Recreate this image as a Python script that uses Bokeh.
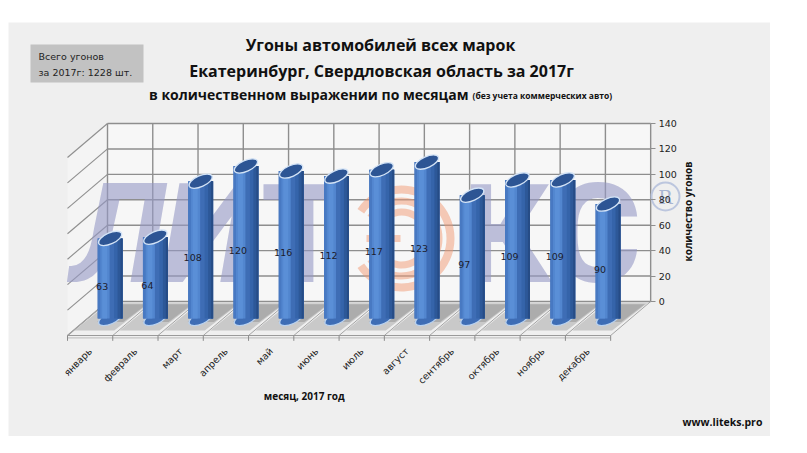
import math
from bokeh.plotting import figure
from bokeh.models import Range1d, FixedTicker, Spacer
from bokeh.layouts import column, row
from bokeh.core.properties import value
from bokeh.embed import file_html
from bokeh.resources import INLINE

# ---------------- data ----------------
months = ["январь", "февраль", "март", "апрель", "май", "июнь",
          "июль", "август", "сентябрь", "октябрь", "ноябрь", "декабрь"]
thefts = [63, 64, 108, 120, 116, 112, 117, 123, 97, 109, 109, 90]
y_ticks = [0, 20, 40, 60, 80, 100, 120, 140]

title1 = "Угоны автомобилей всех марок"
title2 = "Екатеринбург, Свердловская область за 2017г"
title3a = "в количественном выражении по месяцам"
title3b = "(без учета коммерческих авто)"
x_title = "месяц, 2017  год"
y_title = "количество угонов"
site = "www.liteks.pro"
box_lines = ["Всего угонов", f"за 2017г:  {sum(thefts)} шт."]
wm_slanted = ["Л", "И"]
wm_upright = ["Т", "К", "С"]

# ---------------- geometry (page px -> data) ----------------
n = len(months)
SX = 583 / 12.88          # px per month
SY = 223 / 175.39         # px per theft
PX0, PY0 = 67, 301        # page position of x=0 (front left) / value 0 (back wall)
PL, PR, PT, PB = 8, 770, 22, 436   # panel (= frame) on the page


def dx(X):
    return (X - PX0) / SX


def dy(Y):
    return (PY0 - Y) / SY


DX = 40 / SX          # depth offset (x)
DY = 34 / SY          # depth offset (value units)
TOP = y_ticks[-1]

PANEL = "#efefef"
GRID = "#8e8e8e"

p = figure(width=PR - PL, height=PB - PT, x_range=Range1d(dx(PL), dx(PR)),
           y_range=Range1d(dy(PB), dy(PT)),
           output_backend="svg", toolbar_location=None, y_axis_location="right",
           min_border=0, background_fill_color=PANEL, border_fill_color=PANEL)
p.outline_line_color = None
p.grid.visible = False

# x axis: month names under the front floor edge
centers = [i + 0.5 for i in range(n)]
p.xaxis.fixed_location = -DY
p.xaxis.ticker = FixedTicker(ticks=centers)
p.xaxis.major_label_overrides = {c: m for c, m in zip(centers, months)}
p.xaxis.major_label_orientation = math.pi / 4
p.xaxis.axis_line_color = None
p.xaxis.major_tick_line_color = None
p.xaxis.minor_tick_line_color = None
p.xaxis.major_label_standoff = 8
p.xaxis.major_label_text_font = "DejaVu Sans"
p.xaxis.major_label_text_font_size = "9.5px"
p.xaxis.major_label_text_color = "#222222"

# y axis: right edge of the back wall
p.yaxis.fixed_location = n + DX
p.yaxis.ticker = FixedTicker(ticks=y_ticks)
p.yaxis.bounds = (0, TOP)
p.yaxis.axis_line_color = None
p.yaxis.major_tick_line_color = GRID
p.yaxis.major_tick_out = 5
p.yaxis.major_tick_in = 0
p.yaxis.minor_tick_line_color = None
p.yaxis.major_label_standoff = 3
p.yaxis.major_label_text_font = "DejaVu Sans"
p.yaxis.major_label_text_font_size = "9.5px"
p.yaxis.major_label_text_color = "#222222"

# ---------------- walls ----------------
p.quad(left=[DX], right=[DX + n], bottom=[0], top=[TOP], fill_color="#f7f7f7", line_color=None)
p.patch([0, DX, DX, 0], [-DY, 0, TOP, TOP - DY], fill_color="#f4f4f4", line_color=None)

p.segment(x0=[DX] * len(y_ticks), y0=y_ticks, x1=[DX + n] * len(y_ticks), y1=y_ticks,
          line_color=GRID, line_width=1.4)
p.segment(x0=[k + DX for k in range(n + 1)], y0=[0] * (n + 1),
          x1=[k + DX for k in range(n + 1)], y1=[TOP] * (n + 1),
          line_color=GRID, line_width=1.4)
p.segment(x0=[0] * len(y_ticks), y0=[v - DY for v in y_ticks],
          x1=[DX] * len(y_ticks), y1=y_ticks, line_color=GRID, line_width=1.1)

# ---------------- watermark ----------------
p.text(x=[dx(X) for X in (118, 208)], y=[dy(234)] * 2, text=wm_slanted, text_font=value("Roboto"),
       text_font_style="bold italic", text_font_size="138px", text_color="#9497c4",
       text_alpha=0.6, text_align="center", text_baseline="middle")
p.text(x=[dx(X) for X in (303, 506, 596)], y=[dy(234)] * 3, text=wm_upright, text_font=value("Roboto"),
       text_font_style="bold", text_font_size="138px", text_color="#9497c4",
       text_alpha=0.6, text_align="center", text_baseline="middle")
cx_e, cy_e = dx(401), dy(238)
for r_in, r_out in ((45, 53), (34, 41), (23, 30)):
    p.annular_wedge(x=[cx_e], y=[cy_e], inner_radius=r_in, outer_radius=r_out,
                    inner_radius_units="screen", outer_radius_units="screen",
                    start_angle=-2.55, end_angle=2.55,
                    fill_color="#f29a74", fill_alpha=0.5, line_color=None)
p.rect(x=[dx(383)], y=[cy_e], width=34, height=7, width_units="screen", height_units="screen",
       fill_color="#f29a74", fill_alpha=0.5, line_color=None)
p.circle(x=[dx(665)], y=[dy(196)], radius=14, radius_units="screen",
         fill_color=None, line_color="#bcc6de", line_width=2)
p.text(x=[dx(665)], y=[dy(196)], text=["R"], text_font=value("DejaVu Serif"),
       text_font_size="19px", text_color="#a9b5d2", text_align="center", text_baseline="middle")


# ---------------- floor ----------------
def floor_pt(i, u, f):
    return i + u + DX * (1 - f), -DY * f


sh_xs, sh_ys, sh2_xs, sh2_ys = [], [], [], []
for i in range(n):
    pts = [floor_pt(i, 0.06, 0.05), floor_pt(i, 0.97, 0.05), floor_pt(i, 0.90, 0.85), floor_pt(i, 0.02, 0.85)]
    sh_xs.append([q[0] for q in pts]); sh_ys.append([q[1] for q in pts])
    pts2 = [floor_pt(i, 0.30, 0.08), floor_pt(i, 0.94, 0.08), floor_pt(i, 0.88, 0.60), floor_pt(i, 0.30, 0.60)]
    sh2_xs.append([q[0] for q in pts2]); sh2_ys.append([q[1] for q in pts2])
p.patches(sh_xs, sh_ys, fill_color="#b9b9b9", fill_alpha=0.7, line_color=None)
p.patches(sh2_xs, sh2_ys, fill_color="#8f8f8f", fill_alpha=0.5, line_color=None)

p.segment(x0=list(range(n + 1)), y0=[-DY] * (n + 1),
          x1=[k + DX for k in range(n + 1)], y1=[0] * (n + 1),
          line_color="#a5a5a5", line_width=1)
p.segment(x0=[0, 0], y0=[-DY, -DY - 1.8], x1=[n, n], y1=[-DY, -DY - 1.8],
          line_color=["#9a9a9a", "#c4c4c4"], line_width=1.2)
p.segment(x0=list(range(n + 1)), y0=[-DY] * (n + 1),
          x1=list(range(n + 1)), y1=[-DY - 4.2] * (n + 1),
          line_color="#8a8a8a", line_width=1)

# ---------------- cylinders ----------------
cx = [i + 0.5 + DX / 2 for i in range(n)]
base = -DY / 2
tops = [base + v for v in thefts]
W = 0.55
CW = 25
p.ellipse(x=cx, y=[base] * n, width=CW, height=11, angle=0.42,
          width_units="screen", height_units="screen",
          fill_color="#3e6db5", line_color="#b9d2f0", line_width=1.2)
strips = [(-0.5, 0.5, "#3e6db5"), (-0.5, -0.40, "#4879c2"), (-0.40, -0.02, "#5286cf"),
          (-0.32, -0.12, "#5a8fd7"), (0.16, 0.5, "#3564aa"), (0.30, 0.5, "#2d5898"),
          (0.42, 0.5, "#264c86")]
for a, b, col in strips:
    p.vbar(x=[c + W * (a + b) / 2 for c in cx], width=W * (b - a), bottom=base, top=tops,
           fill_color=col, line_color=None)
p.ellipse(x=cx, y=tops, width=CW, height=11, angle=0.42,
          width_units="screen", height_units="screen",
          fill_color="#2d5594", line_color="#d3e3f6", line_width=1.3)

p.text(x=cx, y=[v / 2 - 19.5 for v in thefts], text=[str(v) for v in thefts],
       x_offset=-8, text_font=value("DejaVu Sans"), text_font_size="9.5px",
       text_color="#1c1c2c", text_align="center", text_baseline="middle")


# ---------------- texts ----------------
def txt(X, Y, text, size, align="center", bold=True, font="Open Sans", color="#111111", angle=0.0):
    p.text(x=[dx(X)], y=[dy(Y)], text=[text], text_font=value(font),
           text_font_style="bold" if bold else "normal", text_font_size=size,
           text_color=color, text_align=align, text_baseline="middle", angle=angle)


txt(380, 44, title1, "16px")
txt(381, 70, title2, "16px")
txt(468, 94, title3a, "14px", align="right")
txt(472, 95, title3b, "8.5px", align="left")
txt(305, 395, x_title, "10px")
txt(722, 421, site, "10.5px")
txt(687, 211, y_title, "10px", angle=math.pi / 2)

p.quad(left=[dx(30)], right=[dx(143)], top=[dy(44)], bottom=[dy(82)],
       fill_color="#c2c2c2", line_color=None)
p.text(x=[dx(38)] * 2, y=[dy(56), dy(72)], text=box_lines, text_font=value("DejaVu Sans"),
       text_font_size="9.5px", text_color="#222222", text_align="left", text_baseline="middle")

layout = row(Spacer(width=PL, height=PB), column(Spacer(width=PR - PL, height=PT), p))
open("out.html", "w").write(file_html(layout, INLINE))
